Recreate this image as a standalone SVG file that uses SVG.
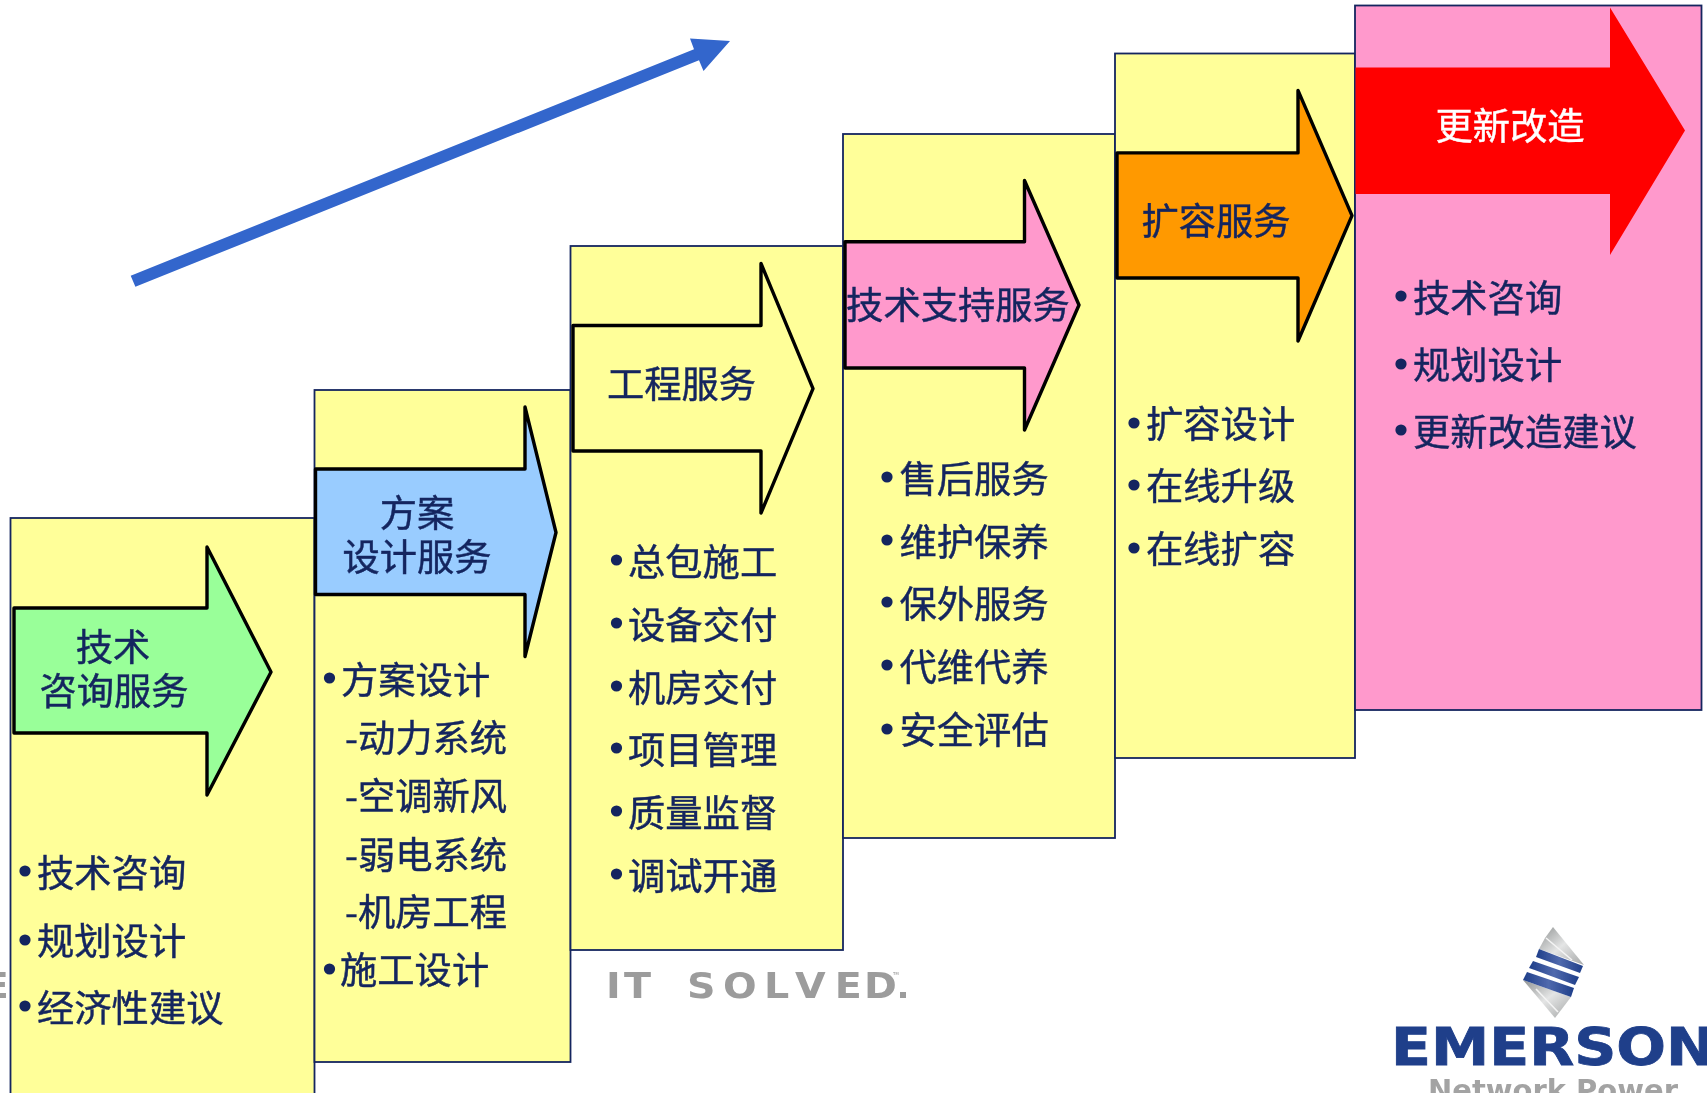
<svg xmlns="http://www.w3.org/2000/svg" width="1707" height="1093" viewBox="0 0 1707 1093">
<style>
text{font-family:"Noto Sans CJK SC","Noto Sans",sans-serif}
.box{fill:#ffff99;stroke:#14255f;stroke-width:1.8}
.arr{stroke:#000;stroke-width:3.4;stroke-linejoin:round}
.t{font-size:37.3px;fill:#14255f;stroke:#14255f;stroke-width:.45}
.m{text-anchor:middle}
.b{fill:#14255f}
text.brand{font-family:"DejaVu Sans",sans-serif;font-weight:700}
</style>
<defs>
<linearGradient id="band" x1="0" y1="0" x2="1" y2="0"><stop offset="0" stop-color="#1f3f8a"/><stop offset=".5" stop-color="#5069ad"/><stop offset="1" stop-color="#1f3f8a"/></linearGradient>
<linearGradient id="silver" x1="0" y1="0" x2="1" y2="1"><stop offset="0" stop-color="#8f9292"/><stop offset=".5" stop-color="#e4e5e5"/><stop offset="1" stop-color="#a5a7a7"/></linearGradient>
<filter id="soft" x="-5%" y="-20%" width="110%" height="140%"><feGaussianBlur stdDeviation=".7"/></filter>
</defs>
<rect width="1707" height="1093" fill="#fff"/>
<g id="tagline" fill="#9c9c9c" filter="url(#soft)">
<text class="brand" x="-16" y="998" font-size="36">E</text>
<text class="brand" transform="translate(606 0) scale(1.1 1)" x="0 16.400 60 73.600 106.400 143.600 171.800 208 234.500" y="998" font-size="36">IT SOLVED</text>
<text x="893" y="978" font-size="8">™</text>
<rect x="900" y="992" width="6" height="6"/>
</g>
<g id="step1"><rect class="box" x="10.5" y="518" width="304" height="590"/>
<path class="arr" fill="#99ff99" d="M14 608H207V547L271 672L207 795V733H14Z"/>
<text class="t m" x="113" y="661">技术</text><text class="t m" x="114" y="705">咨询服务</text>
<circle class="b" cx="25" cy="871" r="5.6"/><text class="t" x="37" y="887">技术咨询</text>
<circle class="b" cx="25" cy="940" r="5.6"/><text class="t" x="37" y="955">规划设计</text>
<circle class="b" cx="25" cy="1006" r="5.6"/><text class="t" x="37" y="1022">经济性建议</text>
</g>
<g id="step2"><rect class="box" x="314.5" y="390" width="256" height="672"/>
<path class="arr" fill="#99ccff" d="M315.5 469H525V407L556 532.5L525 656.5V594.5H315.5Z"/>
<text class="t m" x="417" y="527">方案</text><text class="t m" x="417" y="571">设计服务</text>
<circle class="b" cx="329.500" cy="678" r="5.6"/><text class="t" x="341" y="694">方案设计</text>
<text class="t" x="345" y="752">-动力系统</text><text class="t" x="345" y="810">-空调新风</text><text class="t" x="345" y="869">-弱电系统</text><text class="t" x="345" y="926">-机房工程</text>
<circle class="b" cx="329.500" cy="969" r="5.6"/><text class="t" x="340" y="984">施工设计</text>
</g>
<g id="step3"><rect class="box" x="570.5" y="246" width="272.500" height="704"/>
<path class="arr" fill="#ffff99" d="M573 325.5H761V263.500L813 388.700L761 513V451H573Z"/>
<text class="t m" x="681.500" y="398">工程服务</text>
<circle class="b" cx="616.500" cy="560" r="5.6"/><text class="t" x="628" y="576">总包施工</text>
<circle class="b" cx="616.500" cy="623" r="5.6"/><text class="t" x="628" y="639">设备交付</text>
<circle class="b" cx="616.500" cy="686" r="5.6"/><text class="t" x="628" y="702">机房交付</text>
<circle class="b" cx="616.500" cy="748" r="5.6"/><text class="t" x="628" y="764">项目管理</text>
<circle class="b" cx="616.500" cy="811" r="5.6"/><text class="t" x="628" y="827">质量监督</text>
<circle class="b" cx="616.500" cy="874" r="5.6"/><text class="t" x="628" y="890">调试开通</text>
</g>
<g id="step4"><rect class="box" x="843" y="134" width="272" height="704"/>
<path class="arr" fill="#ff99cc" d="M845 241.700H1024.500V180.500L1079 305L1024.500 430V368H845Z"/>
<text class="t m" x="958" y="319">技术支持服务</text>
<circle class="b" cx="887" cy="477" r="5.6"/><text class="t" x="899.500" y="493">售后服务</text>
<circle class="b" cx="887" cy="540" r="5.6"/><text class="t" x="899.500" y="556">维护保养</text>
<circle class="b" cx="887" cy="602" r="5.6"/><text class="t" x="899.500" y="618">保外服务</text>
<circle class="b" cx="887" cy="665" r="5.6"/><text class="t" x="899.500" y="681">代维代养</text>
<circle class="b" cx="887" cy="729" r="5.6"/><text class="t" x="899.500" y="744">安全评估</text>
</g>
<g id="step5"><rect class="box" x="1115" y="53.500" width="240" height="704.500"/>
<path class="arr" fill="#ff9900" d="M1117 152.900H1298V90.400L1352 215.600L1298 341V278H1117Z"/>
<text class="t m" x="1216" y="235">扩容服务</text>
<circle class="b" cx="1134" cy="423" r="5.6"/><text class="t" x="1146" y="438">扩容设计</text>
<circle class="b" cx="1134" cy="485" r="5.6"/><text class="t" x="1146" y="500">在线升级</text>
<circle class="b" cx="1134" cy="548" r="5.6"/><text class="t" x="1146" y="563">在线扩容</text>
</g>
<g id="step6"><rect class="box" style="fill:#ff99cc" x="1355" y="5.500" width="346.500" height="704.500"/>
<path fill="#ff0000" d="M1355.500 67.500H1610V7.600L1685 130.600L1610 255V194H1355.500Z"/>
<text class="t m" x="1510" y="140" style="fill:#fff;stroke:#fff">更新改造</text>
<circle class="b" cx="1401" cy="296" r="5.6"/><text class="t" x="1413" y="312">技术咨询</text>
<circle class="b" cx="1401" cy="364" r="5.6"/><text class="t" x="1413" y="379">规划设计</text>
<circle class="b" cx="1401" cy="430" r="5.6"/><text class="t" x="1413" y="446">更新改造建议</text>
</g>
<g id="connectors">
<path fill="#3366cc" d="M130.700 275.700L694 49.300L690 38.500L730 41L703.500 71L699 60.300L135.400 286.700Z"/>
</g>
<g id="logo">
<g filter="url(#soft)">
<path fill="url(#silver)" d="M1553 927L1584 965L1539 949L1545 938Z"/>
<path fill="url(#silver)" d="M1523 980L1571 997L1555 1018Z"/>
<path fill="none" stroke="#f4f4f4" stroke-width="1.6" d="M1546 938L1572 960M1536 989L1558 1012"/>
<path fill="url(#band)" d="M1539 949L1583 966L1580 973L1536 957Z"/>
<path fill="url(#band)" d="M1533 961L1579 977L1575 985L1529 968Z"/>
<path fill="url(#band)" d="M1527 972L1574 988L1571 997L1523 980Z"/>
</g>
<text class="brand" x="1391" y="1065" font-size="52" fill="#1f3f8a" stroke="#1f3f8a" stroke-width=".8" textLength="324" lengthAdjust="spacingAndGlyphs">EMERSON</text>
<text class="brand" x="1428" y="1100" font-size="28" fill="#a3a3a3" textLength="250" lengthAdjust="spacingAndGlyphs" filter="url(#soft)">Network Power</text>
</g>
</svg>
